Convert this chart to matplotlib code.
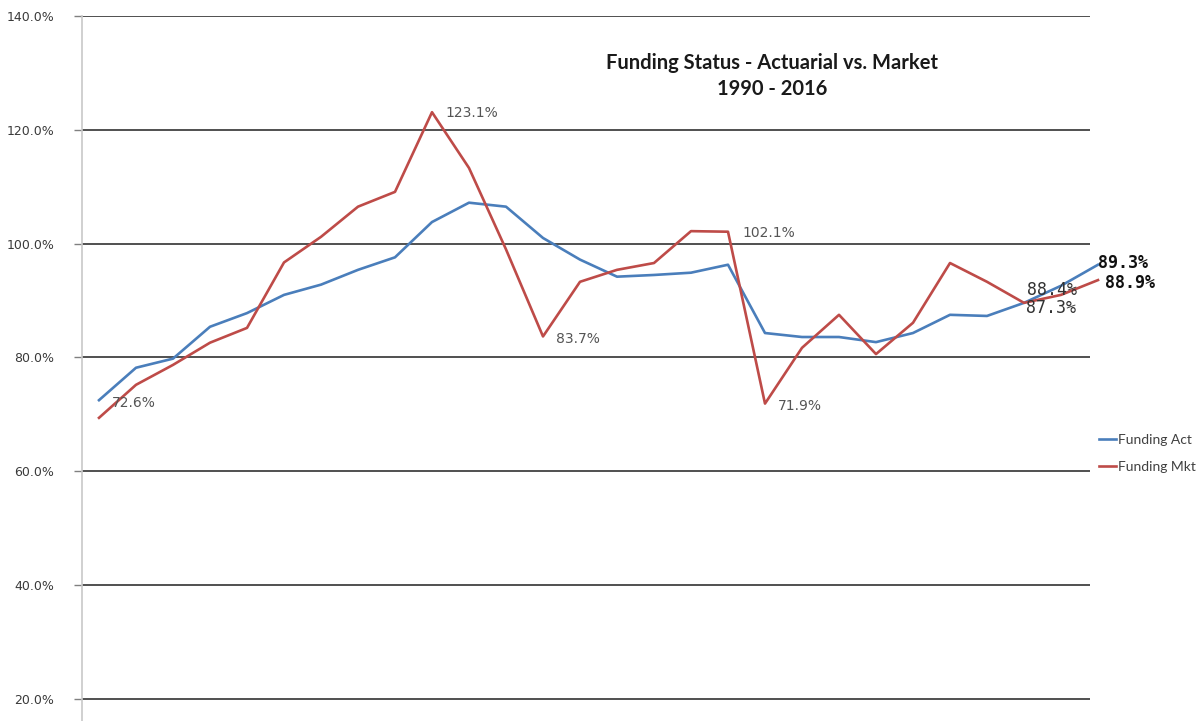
import numpy as np
import matplotlib
matplotlib.use('Agg')
import matplotlib.pyplot as plt
from matplotlib.ticker import FuncFormatter

years = list(range(1990, 2018))
funding_act = [72.5, 78.2, 79.8, 85.4, 87.8, 91.0, 92.8, 95.4, 97.6, 103.8,
               107.2, 106.5, 101.0, 97.2, 94.2, 94.5, 94.9, 96.3, 84.3, 83.6,
               83.6, 82.7, 84.3, 87.5, 87.3, 89.6, 92.6, 96.3]
funding_mkt = [69.4, 75.2, 78.7, 82.6, 85.2, 96.7, 101.2, 106.5, 109.1, 123.1,
               113.3, 99.0, 83.7, 93.3, 95.4, 96.6, 102.2, 102.1, 71.9, 81.7,
               87.5, 80.6, 86.1, 96.6, 93.3, 89.6, 91.0, 93.6]

# (text, year, series) for the data labels
labels = [('72.6%', 1990, 'act'), ('123.1%', 1999, 'mkt'), ('83.7%', 2002, 'mkt'),
          ('102.1%', 2007, 'mkt'), ('71.9%', 2008, 'mkt')]
mono_labels = [('88.4%', 2015, 'act'), ('87.3%', 2015, 'mkt')]
bold_labels = [('89.3%', 2017, 'act'), ('88.9%', 2017, 'mkt')]
yticks = [20, 40, 60, 80, 100, 120, 140]

BLUE = '#4a7ebb'
RED = '#be4b48'

fig = plt.figure(figsize=(11.99, 7.21), dpi=100)
ax = fig.add_axes([82/1199, 0, (1090-82)/1199, (721-16)/721])

x = np.arange(len(years))
ax.plot(x, funding_act, color=BLUE, lw=1.9, label='Funding Act', clip_on=False, zorder=3)
ax.plot(x, funding_mkt, color=RED, lw=1.9, label='Funding Mkt', clip_on=False, zorder=3)

ax.set_xlim(-17/37, 991/37)
ax.set_ylim(20 - 22/5.69, 140)
for v in yticks:
    ax.axhline(v, color='#505050', lw=1.4, zorder=1)

ax.set_yticks(yticks)
ax.yaxis.set_major_formatter(FuncFormatter(lambda v, p: f'{v:.1f}%'))
ax.tick_params(axis='y', length=6, width=1, color='#808080', labelsize=9,
               labelcolor='#3a3a3a', pad=14)
ax.set_xticks([])
for s in ['top', 'right', 'bottom']:
    ax.spines[s].set_visible(False)
ax.spines['left'].set_color('#c8c8c8')
ax.spines['left'].set_linewidth(1.2)

series = {'act': funding_act, 'mkt': funding_mkt}
offsets = {'72.6%': (13, -3), '123.1%': (13, -1), '83.7%': (13, -3),
           '102.1%': (14, -1), '71.9%': (13, -2), '88.4%': (3, 13), '87.3%': (2, -5),
           '89.3%': (0, 2), '88.9%': (7, -3)}
for txt, yr, s in labels:
    i = years.index(yr)
    ax.annotate(txt, (i, series[s][i]), xytext=offsets[txt], textcoords='offset pixels',
                fontsize=10, color='#555555', va='center', ha='left', annotation_clip=False)
for txt, yr, s in mono_labels:
    i = years.index(yr)
    ax.annotate(txt, (i, series[s][i]), xytext=offsets[txt], textcoords='offset pixels',
                fontsize=12, color='#333333', family='DejaVu Sans Mono', va='center',
                ha='left', annotation_clip=False, zorder=4)
for txt, yr, s in bold_labels:
    i = years.index(yr)
    ax.annotate(txt, (i, series[s][i]), xytext=offsets[txt], textcoords='offset pixels',
                fontsize=12, color='#111111', family='DejaVu Sans Mono', weight='bold',
                va='center', ha='left', annotation_clip=False, zorder=4)

fig.text(772/1199, 1 - 63/721, 'Funding Status - Actuarial vs. Market', ha='center',
         va='center', fontsize=14.5, weight='bold', family='Lato', color='#1a1a1a')
fig.text(772/1199, 1 - 89/721, '1990 - 2016', ha='center', va='center', fontsize=14.5,
         weight='bold', family='Lato', color='#1a1a1a')

fig.legend(loc='upper left', bbox_to_anchor=(1092/1199, 1 - 427/721), frameon=False,
           handlelength=1.2, handletextpad=0.2, labelspacing=1.1, borderpad=0,
           prop={'family': 'Lato', 'size': 10}, labelcolor='#404040')

fig.savefig('out.png', dpi=100)
